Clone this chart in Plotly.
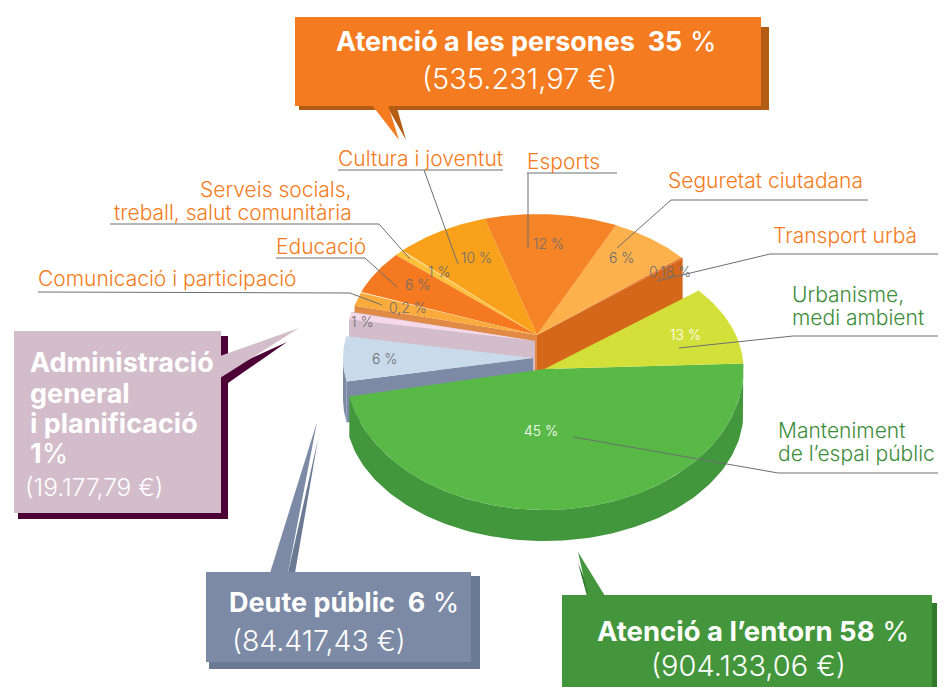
import math
import plotly.graph_objects as go

# ---- data ----
categories = ["Urbanisme, medi ambient", "Transport urbà", "Seguretat ciutadana", "Esports",
              "Cultura i joventut", "Serveis socials, treball, salut comunitària", "Educació",
              "Comunicació i participació", "Administració general i planificació", "Deute públic",
              "Manteniment de l'espai públic"]
# percentages as printed on the chart
printed_pct = ["13 %", "0,18 %", "6 %", "12 %", "10 %", "1 %", "6 %", "0,2 %", "1 %", "6 %", "45 %"]
# share of the ring each slice actually occupies in the picture (measured, %)
drawn_share = [10.2, 0.2, 7.0, 11.4, 8.2, 0.83, 5.7, 1.9, 1.0, 6.0, 47.57]
slice_colors = ["#d4e03a", "#e5742a", "#fdb14c", "#f58427", "#f9a11b", "#ffc13c", "#f47920",
                "#fbaa3c", "#f6d9e8", "#c9dbea", "#58b947"]
START_ANGLE = 2.5

# one exploded block per group: centre x, centre y, a, b(back), b(front)
BLOCK_ORANGE = (537, 335, 188, 121, 121)
BLOCK_ADMIN = (535, 341, 189, 121, 121)
BLOCK_DEUTE = (533, 358, 190, 121, 121)
BLOCK_GREEN = (544.5, 369, 199, 124, 141)
label_xy = [(685, 334), (670, 271), (621, 257), (548, 243), (476, 257), (439, 271), (417, 284),
            (408, 307), (362, 321), (384, 358), (541, 430)]
label_colors = ["#ffffff", "#6d6e71", "#6d6e71", "#6d6e71", "#6d6e71", "#6d6e71", "#6d6e71",
                "#6d6e71", "#6d6e71", "#6d6e71", "#ffffff"]

FONT = "Inter"
ORANGE = "#f47b20"
DARKGREEN = "#3c8c3a"


def rim(block, t):
    cx, cy, a, bb, bf = block
    s = math.sin(math.radians(t))
    return cx + a * math.cos(math.radians(t)), cy - (bb if s > 0 else bf) * s


def arc(block, t0, t1, n=60):
    return [rim(block, t0 + (t1 - t0) * i / n) for i in range(n + 1)]


fig = go.Figure()


def poly(pts, color, name=""):
    xs = [p[0] for p in pts] + [pts[0][0]]
    ys = [p[1] for p in pts] + [pts[0][1]]
    fig.add_trace(go.Scatter(x=xs, y=ys, fill="toself", fillcolor=color, mode="lines",
                             line=dict(width=0, color=color), hoverinfo="skip" if not name else "name",
                             name=name, showlegend=False))


# angles from shares
edges = [START_ANGLE]
for v in drawn_share:
    edges.append(edges[-1] + v * 3.6)
ang = list(zip(edges[:-1], edges[1:]))


def down(pts, d):
    return [(x, y + d) for x, y in pts]


# orange block walls
D = 41
t_r = ang[1][0]
t_l = ang[7][1]
ap = BLOCK_ORANGE[:2]
poly([ap, rim(BLOCK_ORANGE, t_r), (rim(BLOCK_ORANGE, t_r)[0], rim(BLOCK_ORANGE, t_r)[1] + D), (ap[0] + 10, ap[1] + 37), (ap[0], ap[1] + D)], "#d5671b")
poly([ap, rim(BLOCK_ORANGE, t_l), (rim(BLOCK_ORANGE, t_l)[0], rim(BLOCK_ORANGE, t_l)[1] + D), (ap[0], ap[1] + D)], "#e08a45")
for i in range(1, 8):
    poly([ap] + arc(BLOCK_ORANGE, *ang[i]), slice_colors[i], categories[i])

# administració block
ap = BLOCK_ADMIN[:2]
e = rim(BLOCK_ADMIN, ang[8][1])
s0 = rim(BLOCK_ADMIN, ang[8][0])
poly([ap, s0, e, (e[0], e[1] + D), (ap[0], ap[1] + D)], "#d3bdca")
poly([ap] + arc(BLOCK_ADMIN, *ang[8]), slice_colors[8], categories[8])

# deute block
ap = BLOCK_DEUTE[:2]
t1 = ang[9][1]
top = arc(BLOCK_DEUTE, 180, t1, 20)
poly(top + down(top, D)[::-1], "#7c8aa6")
e = rim(BLOCK_DEUTE, t1)
poly([ap, e, (e[0], e[1] + D), (ap[0], ap[1] + D)], "#7c8aa6")
poly([ap] + arc(BLOCK_DEUTE, *ang[9]), slice_colors[9], categories[9])

# green block wall + faces
LOWER = (BLOCK_GREEN[0], BLOCK_GREEN[1] + 43, BLOCK_GREEN[2], 124, 129)
t0g, t1g = ang[10]
poly(arc(BLOCK_GREEN, t0g, t1g, 120) + arc(LOWER, t1g, t0g, 120), "#42963b")
ap = BLOCK_GREEN[:2]
poly([ap] + arc(BLOCK_GREEN, *ang[10], 120), slice_colors[10], categories[10])
poly([ap] + arc(BLOCK_GREEN, *ang[0]), slice_colors[0], categories[0])

fig.update_xaxes(range=[0, 948], visible=False, fixedrange=True)
fig.update_yaxes(range=[687, 0], visible=False, fixedrange=True)


def path(pts):
    return "M " + " L ".join(f"{x},{y}" for x, y in pts) + " Z"


shapes = []


def box(x0, y0, x1, y1, color, layer="below"):
    shapes.append(dict(type="rect", x0=x0, y0=y0, x1=x1, y1=y1, fillcolor=color,
                       line=dict(width=0), layer=layer))


def tail(pts, color, layer="below"):
    shapes.append(dict(type="path", path=path(pts), fillcolor=color, line=dict(width=0), layer=layer))


# callouts
tail([(388, 108), (406, 140), (397, 108)], "#b35c14")
box(299, 27, 769, 110, "#b35c14")
tail([(372, 105), (399, 140), (388, 105)], ORANGE)
box(295, 17, 761, 106, ORANGE)

tail([(221, 372), (287, 342), (228, 383)], "#4d0036")
box(18, 336, 228, 519, "#4d0036")
tail([(220, 356), (299, 328), (220, 378)], "#d3bdca")
box(14, 331, 221, 513, "#d3bdca")

tail([(288, 573), (318, 439), (295, 573)], "#6b7a93")
box(209, 576, 480, 669, "#6b7a93")
tail([(270, 573), (317, 422), (288, 573)], "#7c8aa6")
box(206, 572, 471, 662, "#7c8aa6")

tail([(578, 563), (592, 596), (587, 596)], "#2f7a2b")
box(566, 603, 937, 687, "#2f7a2b")
tail([(588, 596), (578, 552), (605, 596)], "#43963b")
box(562, 595, 932, 687, "#43963b")

# leader lines
leaders = [
    [(338, 170), (503, 170)], [(424, 170), (458, 264)],
    [(527, 173), (617, 173)], [(528, 173), (528, 248)],
    [(868, 200), (671, 200), (617, 248)],
    [(938, 254), (770, 254), (657, 281)],
    [(938, 336), (793, 336), (679, 348)],
    [(938, 473), (778, 473), (573, 437)],
    [(38, 292), (350, 293), (382, 305)],
    [(276, 258), (365, 258), (397, 287)],
    [(110, 224), (379, 224), (410, 259)],
]
for pts in leaders:
    shapes.append(dict(type="path", path="M " + " L ".join(f"{x},{y}" for x, y in pts),
                       line=dict(color="#6d6e71", width=1), layer="above"))
fig.update_layout(shapes=shapes)


def txt(x, y, s, size, color, anchor="left", weight=400):
    shift = {"left": -2, "right": 2, "center": 0}[anchor]
    fig.add_annotation(x=x + shift, y=y, text=s, showarrow=False, xanchor=anchor, yanchor="middle",
                       font=dict(family=FONT, size=size, color=color, weight=weight))


for (x, y), s, c in zip(label_xy, printed_pct, label_colors):
    txt(x, y, s, 14, c, "center", 300)

# category labels
CAT = 21
txt(338, 158, "Cultura i joventut", CAT, ORANGE, weight=300)
txt(527, 161, "Esports", CAT, ORANGE, weight=300)
txt(668, 180, "Seguretat ciutadana", CAT, ORANGE, weight=300)
txt(773, 235, "Transport urbà", CAT, ORANGE, weight=300)
txt(352, 189, "Serveis socials,", CAT, ORANGE, "right", 300)
txt(352, 212, "treball, salut comunitària", CAT, ORANGE, "right", 300)
txt(276, 246, "Educació", CAT, ORANGE, weight=300)
txt(38, 278, "Comunicació i participació", CAT, ORANGE, weight=300)
txt(792, 294, "Urbanisme,", CAT, DARKGREEN, weight=300)
txt(792, 317, "medi ambient", CAT, DARKGREEN, weight=300)
txt(778, 430, "Manteniment", CAT, DARKGREEN, weight=300)
txt(778, 453, "de l’espai públic", CAT, DARKGREEN, weight=300)

# callout texts
txt(336, 41, "<b>Atenció a les persones  35</b> %", 27, "#ffffff")
txt(519, 78, "(535.231,97 €)", 29, "#ffffff", "center", 300)
txt(30, 362, "<b>Administració</b>", 27, "#ffffff")
txt(30, 393, "<b>general</b>", 27, "#ffffff")
txt(30, 423, "<b>i planificació</b>", 27, "#ffffff")
txt(30, 453, "<b>1</b>%", 27, "#ffffff")
txt(25, 487, "(19.177,79 €)", 24.5, "#ffffff", weight=300)
txt(229, 602, "<b>Deute público  6</b> %".replace("público", "públic"), 27, "#ffffff")
txt(232, 640, "(84.417,43 €)", 28.5, "#ffffff", weight=300)
txt(597, 631, "<b>Atenció a l’entorn 58</b> %", 27.5, "#ffffff")
txt(651, 665, "(904.133,06 €)", 29, "#ffffff", weight=300)

fig.update_layout(width=948, height=687, margin=dict(l=0, r=0, t=0, b=0), autosize=False,
                  paper_bgcolor="#ffffff", plot_bgcolor="#ffffff", showlegend=False)

fig.write_html("out.html", config=dict(displayModeBar=False),
               post_script="document.body.style.margin='0';document.body.style.overflow='hidden';")
